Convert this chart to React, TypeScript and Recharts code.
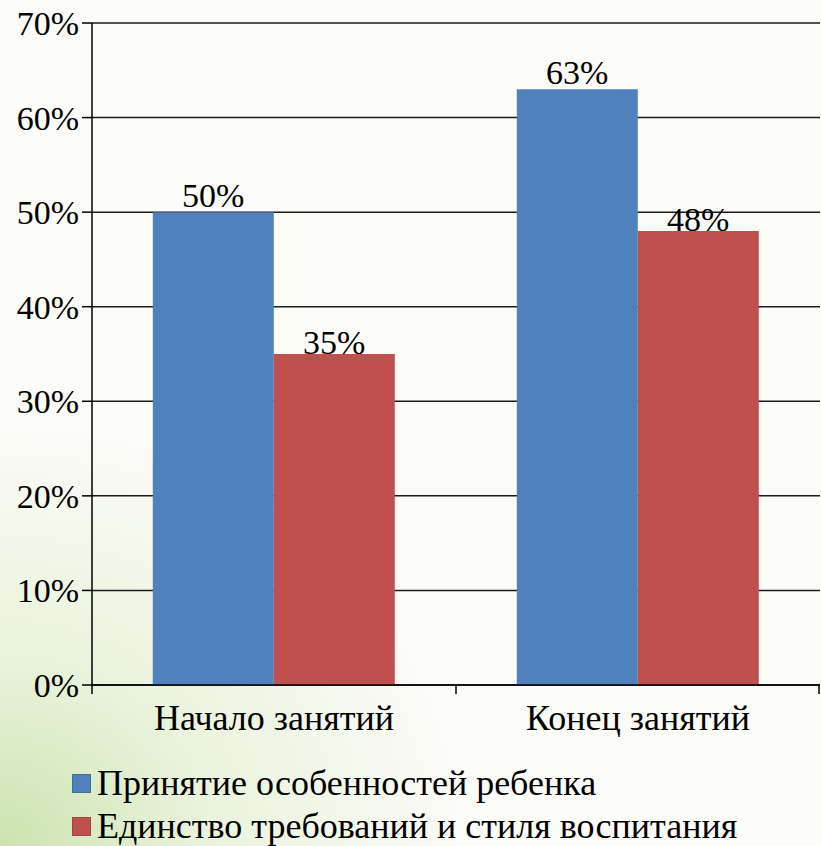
import React from 'react';
import { BarChart, Bar, XAxis, YAxis, CartesianGrid, Legend, LabelList } from 'recharts';

const categories = ['Начало занятий', 'Конец занятий'];
const acceptance = [50, 63];
const unity = [35, 48];
const seriesNames = ['Принятие особенностей ребенка', 'Единство требований и стиля воспитания'];
const yTicks = [0, 10, 20, 30, 40, 50, 60, 70];

const COLORS = ['#4F81BD', '#C0504D'];
const FONT = 'Liberation Serif, DejaVu Serif, serif';
const FS = 34;
const LFS = 36;

const data = categories.map((c, i) => ({ name: c, a: acceptance[i], b: unity[i] }));

const CatTick = (props: any) => {
  const { x, y, payload, index, visibleTicksCount } = props;
  const off = payload.offset || 0;
  return (
    <g>
      <line x1={x - off} y1={y} x2={x - off} y2={y + 9} stroke="#000" strokeWidth={1.5} />
      {index === visibleTicksCount - 1 ? (
        <line x1={x + off - 1} y1={y} x2={x + off - 1} y2={y + 9} stroke="#000" strokeWidth={1.5} />
      ) : null}
      <text x={x} y={y + 45} textAnchor="middle" style={{ fontFamily: FONT, fontSize: LFS }} fill="#000">
        {payload.value}
      </text>
    </g>
  );
};

const LegendContent = () => (
  <div style={{ fontFamily: FONT, fontSize: LFS, color: '#000', lineHeight: '43px' }}>
    {seriesNames.map((n, i) => (
      <div key={n} style={{ display: 'flex', alignItems: 'center', whiteSpace: 'nowrap' }}>
        <span style={{ display: 'inline-block', width: 17, height: 17, background: COLORS[i], marginRight: 6, border: '1px solid rgba(0,0,0,0.15)' }} />
        <span>{n}</span>
      </div>
    ))}
  </div>
);

export default function App() {
  return (
    <div
      style={{
        position: 'absolute',
        left: 0,
        top: 0,
        width: 821,
        height: 846,
        fontFamily: FONT,
        background:
          'radial-gradient(ellipse 460px 420px at 0% 100%, rgba(165,208,115,0.55) 0%, rgba(200,228,170,0.35) 45%, rgba(250,251,246,0) 100%), #fbfbf7',
      }}
    >
      <BarChart
        width={821}
        height={846}
        data={data}
        margin={{ top: 23, right: 1, left: 0, bottom: 101 }}
        barCategoryGap="16.7%"
        barGap={0}
        style={{ fontFamily: FONT }}
      >
        <CartesianGrid vertical={false} stroke="#1a1a1a" strokeWidth={1.5} />
        <XAxis
          dataKey="name"
          height={60}
          axisLine={{ stroke: '#000', strokeWidth: 1.5 }}
          tickLine={false}
          tickSize={0}
          tickMargin={0}
          tick={<CatTick />}
          interval={0}
        />
        <YAxis
          width={92}
          domain={[0, 70]}
          ticks={yTicks}
          tickFormatter={(v: number) => `${v}%`}
          axisLine={{ stroke: '#000', strokeWidth: 1.5 }}
          tickLine={{ stroke: '#000', strokeWidth: 1.5 }}
          tickSize={10}
          tickMargin={3}
          tick={{ fontFamily: FONT, fontSize: FS, fill: '#000', style: { fontFamily: FONT } }}
        />
        <Legend
          layout="horizontal"
          verticalAlign="middle"
          align="center"
          content={<LegendContent />}
          wrapperStyle={{ top: 762, left: 72, width: 'auto', height: 'auto' }}
        />
        <Bar dataKey="a" name={seriesNames[0]} fill={COLORS[0]} isAnimationActive={false}>
          <LabelList
            dataKey="a"
            position="top"
            offset={5}
            formatter={(v: number) => `${v}%`}
            fontFamily={FONT}
            style={{ fontFamily: FONT, fontSize: FS, fill: '#000' }}
          />
        </Bar>
        <Bar dataKey="b" name={seriesNames[1]} fill={COLORS[1]} isAnimationActive={false}>
          <LabelList
            dataKey="b"
            position="top"
            offset={0}
            formatter={(v: number) => `${v}%`}
            fontFamily={FONT}
            style={{ fontFamily: FONT, fontSize: FS, fill: '#000' }}
          />
        </Bar>
      </BarChart>
    </div>
  );
}
